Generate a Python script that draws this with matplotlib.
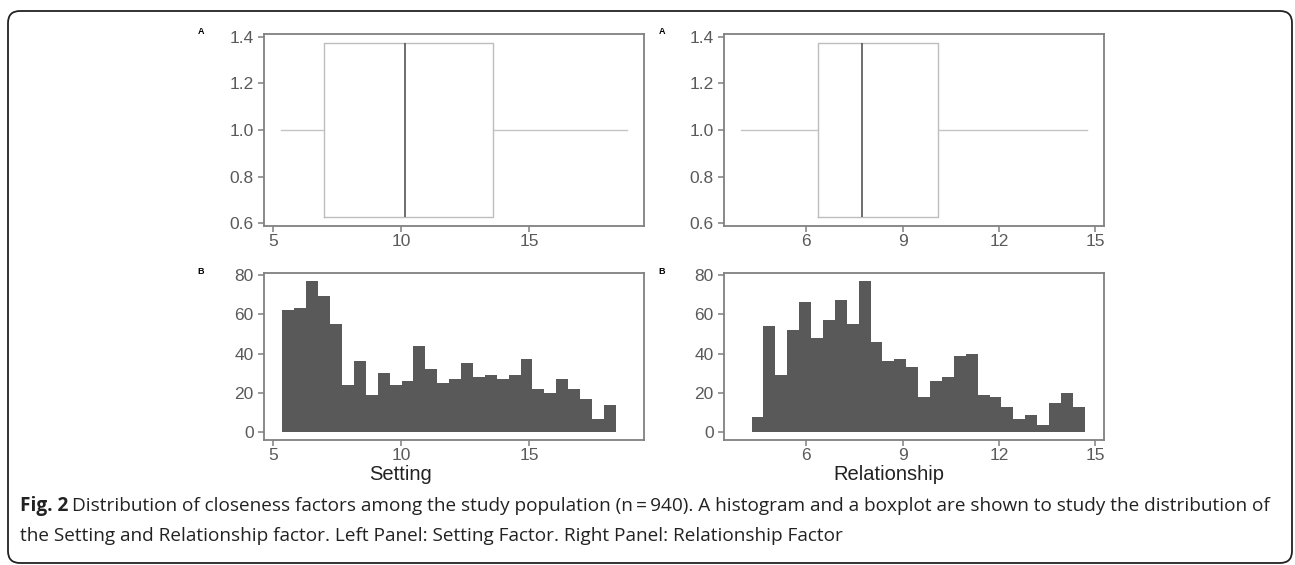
"""
Distribution of closeness factors: boxplot + histogram for Setting and Relationship.
"""
import numpy as np
import matplotlib
matplotlib.use('Agg')
import matplotlib.pyplot as plt
from matplotlib.patches import FancyBboxPatch

# Datos
setting_box = [5.32, 6.98, 10.15, 13.6, 18.81]        # whislo, q1, med, q3, whishi
relationship_box = [3.97, 6.36, 7.73, 10.09, 14.74]

setting_counts = [62, 63, 77, 69, 55, 24, 36, 19, 30, 24, 26, 44, 32, 25,
                  27, 35, 28, 29, 27, 29, 37, 22, 20, 27, 22, 17, 7, 14]
setting_bin_start = 5.37
setting_bin_width = 0.465

relationship_counts = [8, 54, 29, 52, 66, 48, 57, 67, 55, 77, 46, 36, 37, 33,
                       18, 26, 28, 39, 40, 19, 18, 13, 7, 9, 4, 15, 20, 13]
relationship_bin_start = 4.29
relationship_bin_width = 0.371

setting_ticks = [5, 10, 15]
relationship_ticks = [6, 9, 12, 15]
box_yticks = [0.6, 0.8, 1.0, 1.2, 1.4]
hist_yticks = [0, 20, 40, 60, 80]

W, H = 1295, 565
FONT = ['Liberation Sans', 'DejaVu Sans']
SPINE = '#808080'
TICKTXT = '#5a5a5a'

fig = plt.figure(figsize=(W / 100, H / 100), dpi=100)
fig.patch.set_facecolor('white')


def px_axes(x0, y0, x1, y1):
    # posicion en pixeles (origen arriba a la izquierda)
    return fig.add_axes([x0 / W, 1 - y1 / H, (x1 - x0) / W, (y1 - y0) / H])


def estilo(ax, xticks, yticks, ylabels):
    for s in ax.spines.values():
        s.set_color(SPINE)
        s.set_linewidth(1.3)
    ax.set_xticks(xticks)
    ax.set_yticks(yticks)
    ax.set_yticklabels(ylabels)
    ax.tick_params(colors=SPINE, labelcolor=TICKTXT, labelsize=12.5,
                   length=4, width=1.1)
    ax.tick_params(axis='x', pad=2)
    ax.tick_params(axis='y', pad=3.5)
    for lab in ax.get_xticklabels() + ax.get_yticklabels():
        lab.set_family(FONT)


def boxplot(ax, vals, xlim, xticks):
    whislo, q1, med, q3, whishi = vals
    stats = [dict(whislo=whislo, q1=q1, med=med, q3=q3, whishi=whishi, fliers=[])]
    ax.bxp(stats, positions=[1], widths=0.75, orientation='horizontal',
           showcaps=False,
           boxprops=dict(color='#bdbdbd', linewidth=1.0),
           whiskerprops=dict(color='#c4c4c4', linewidth=1.0),
           medianprops=dict(color='#555555', linewidth=1.2))
    ax.set_xlim(xlim)
    ax.set_ylim(0.5875, 1.4125)
    estilo(ax, xticks, box_yticks, [f'{v:.1f}' for v in box_yticks])


def histograma(ax, counts, start, width, xlim, xticks, titulo, titulo_x):
    edges = start + width * np.arange(len(counts) + 1)
    ax.stairs(counts, edges, fill=True, color='#595959')
    ax.set_xlim(xlim)
    ax.set_ylim(-3.85, 80.85)
    estilo(ax, xticks, hist_yticks, [str(v) for v in hist_yticks])
    fig.text(titulo_x / W, 1 - 474 / H, titulo, ha='center', va='center',
             fontsize=14.5, color='#222222', family=FONT)


# Panel izquierdo: Setting
ax1 = px_axes(264, 34, 644, 226)
boxplot(ax1, setting_box, (4.65, 19.49), setting_ticks)
ax2 = px_axes(264, 273, 644, 440)
histograma(ax2, setting_counts, setting_bin_start, setting_bin_width,
           (4.65, 19.49), setting_ticks, 'Setting', 401)

# Panel derecho: Relationship
ax3 = px_axes(724, 34, 1104, 226)
boxplot(ax3, relationship_box, (3.43, 15.28), relationship_ticks)
ax4 = px_axes(724, 273, 1104, 440)
histograma(ax4, relationship_counts, relationship_bin_start, relationship_bin_width,
           (3.43, 15.28), relationship_ticks, 'Relationship', 889)

# Etiquetas A / B
for x in (201, 662):
    fig.text(x / W, 1 - 32 / H, 'A', fontsize=6.5, fontweight='bold',
             ha='center', va='center', family=FONT)
    fig.text(x / W, 1 - 272 / H, 'B', fontsize=6.5, fontweight='bold',
             ha='center', va='center', family=FONT)

# Marco redondeado
marco = FancyBboxPatch((8, 2), 1284, 552, boxstyle='round,pad=0,rounding_size=12',
                       transform=None, facecolor='none', edgecolor='#222222',
                       linewidth=1.3)
fig.add_artist(marco)

# Leyenda de la figura
CAP = ['Open Sans', 'DejaVu Sans']
cap_size = 13.7
renderer = fig.canvas.get_renderer()
t = fig.text(20 / W, 1 - 511 / H, 'Fig. 2', fontsize=cap_size, fontweight='bold',
             family=CAP, color='#222222', va='baseline')
bb = t.get_window_extent(renderer)
fig.text((bb.x1 + 4) / W, 1 - 511 / H,
         'Distribution of closeness factors among the study population (n\u2009=\u2009940). '
         'A histogram and a boxplot are shown to study the distribution of',
         fontsize=cap_size, family=CAP, color='#222222', va='baseline')
fig.text(20 / W, 1 - 541 / H,
         'the Setting and Relationship factor. Left Panel: Setting Factor. '
         'Right Panel: Relationship Factor',
         fontsize=cap_size, family=CAP, color='#222222', va='baseline')

fig.savefig('out.png', dpi=100)
plt.close()
